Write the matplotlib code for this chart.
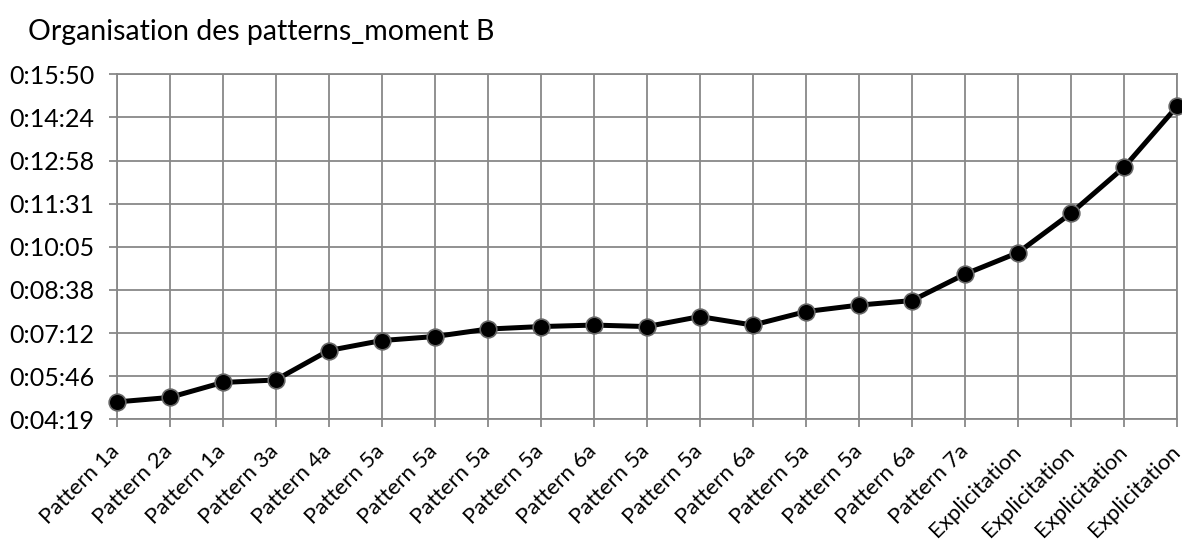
import numpy as np
import matplotlib.pyplot as plt
from matplotlib.ticker import FuncFormatter

plt.rcParams['font.family'] = ['Lato', 'DejaVu Sans']

categories = ['Pattern 1a', 'Pattern 2a', 'Pattern 1a', 'Pattern 3a', 'Pattern 4a',
              'Pattern 5a', 'Pattern 5a', 'Pattern 5a', 'Pattern 5a', 'Pattern 6a',
              'Pattern 5a', 'Pattern 5a', 'Pattern 6a', 'Pattern 5a', 'Pattern 5a',
              'Pattern 6a', 'Pattern 7a', 'Explicitation', 'Explicitation',
              'Explicitation', 'Explicitation']
durations = ['0:04:54', '0:05:03', '0:05:33', '0:05:38', '0:06:37', '0:06:57',
             '0:07:05', '0:07:20', '0:07:25', '0:07:28', '0:07:25', '0:07:45',
             '0:07:28', '0:07:55', '0:08:08', '0:08:17', '0:09:10', '0:09:53',
             '0:11:12', '0:12:44', '0:14:46']
# y ticks as fractions of a day (spreadsheet time)
y_ticks = [0.003, 0.004, 0.005, 0.006, 0.007, 0.008, 0.009, 0.010, 0.011]


def to_days(s):
    h, m, sec = (int(v) for v in s.split(':'))
    return (h * 3600 + m * 60 + sec) / 86400.0


def fmt_time(v, pos=None):
    total = int(round(v * 86400))
    return '%d:%02d:%02d' % (total // 3600, (total % 3600) // 60, total % 60)


values = [to_days(d) for d in durations]
x = np.arange(len(categories))
grid_col = '#888888'

fig = plt.figure(figsize=(11.82, 5.46), dpi=100)
ax = fig.add_axes([0.0986, 0.232, 0.8972, 0.632])

ax.plot(x, values, color='black', linewidth=3.6, marker='o', markersize=12,
        markerfacecolor='black', markeredgecolor='#666666', markeredgewidth=1.2,
        clip_on=False, zorder=3)

ax.set_xlim(0, len(categories) - 1)
ax.set_ylim(y_ticks[0], y_ticks[-1])
ax.set_yticks(y_ticks)
ax.yaxis.set_major_formatter(FuncFormatter(fmt_time))
ax.set_xticks(x)
ax.set_xticklabels(categories, rotation=45, ha='right', va='center',
                   rotation_mode='anchor', fontsize=16)

ax.grid(True, color=grid_col, linewidth=1.3)
for s in ax.spines.values():
    s.set_color(grid_col)
    s.set_linewidth(1.3)
ax.tick_params(axis='both', color=grid_col, length=6, width=1.3,
               labelcolor='black')
ax.tick_params(axis='y', pad=10, labelsize=18)
ax.tick_params(axis='x', pad=15)

fig.text(0.024, 0.941, 'Organisation des patterns_moment B', fontsize=20.5,
         ha='left', va='center')

fig.savefig('out.png', dpi=100)
